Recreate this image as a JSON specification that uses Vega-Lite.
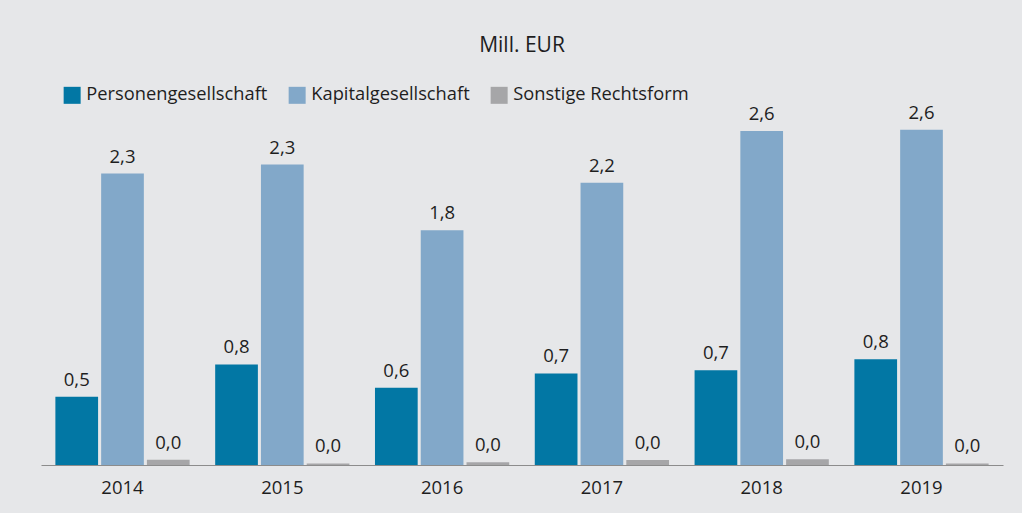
{
  "$schema": "https://vega.github.io/schema/vega-lite/v6.json",
  "width": 962,
  "height": 361,
  "autosize": {"type": "none"},
  "padding": {"left": 41, "top": 104, "right": 19, "bottom": 48},
  "background": "#e6e7e9",
  "config": {
    "view": {"stroke": null},
    "font": "Open Sans",
    "locale": {"number": {"decimal": ",", "thousands": ".", "grouping": [3], "currency": ["", " €"]}}
  },
  "title": {
    "text": "Mill. EUR",
    "anchor": "middle",
    "frame": "group",
    "fontSize": 21,
    "fontWeight": "normal",
    "color": "#1e1e1e",
    "offset": 30,
    "font": "Open Sans"
  },
  "data": {
    "values": [
      {"Jahr": "2014", "Rechtsform": "Personengesellschaft", "Wert": 0.53},
      {"Jahr": "2014", "Rechtsform": "Kapitalgesellschaft", "Wert": 2.26},
      {"Jahr": "2014", "Rechtsform": "Sonstige Rechtsform", "Wert": 0.04},
      {"Jahr": "2015", "Rechtsform": "Personengesellschaft", "Wert": 0.78},
      {"Jahr": "2015", "Rechtsform": "Kapitalgesellschaft", "Wert": 2.33},
      {"Jahr": "2015", "Rechtsform": "Sonstige Rechtsform", "Wert": 0.012},
      {"Jahr": "2016", "Rechtsform": "Personengesellschaft", "Wert": 0.6},
      {"Jahr": "2016", "Rechtsform": "Kapitalgesellschaft", "Wert": 1.82},
      {"Jahr": "2016", "Rechtsform": "Sonstige Rechtsform", "Wert": 0.022},
      {"Jahr": "2017", "Rechtsform": "Personengesellschaft", "Wert": 0.71},
      {"Jahr": "2017", "Rechtsform": "Kapitalgesellschaft", "Wert": 2.19},
      {"Jahr": "2017", "Rechtsform": "Sonstige Rechtsform", "Wert": 0.038},
      {"Jahr": "2018", "Rechtsform": "Personengesellschaft", "Wert": 0.735},
      {"Jahr": "2018", "Rechtsform": "Kapitalgesellschaft", "Wert": 2.59},
      {"Jahr": "2018", "Rechtsform": "Sonstige Rechtsform", "Wert": 0.045},
      {"Jahr": "2019", "Rechtsform": "Personengesellschaft", "Wert": 0.82},
      {"Jahr": "2019", "Rechtsform": "Kapitalgesellschaft", "Wert": 2.6},
      {"Jahr": "2019", "Rechtsform": "Sonstige Rechtsform", "Wert": 0.012}
    ]
  },
  "encoding": {
    "x": {
      "field": "Jahr",
      "type": "nominal",
      "scale": {"paddingInner": 0.16, "paddingOuter": 0.09},
      "axis": {
        "title": null,
        "labelAngle": 0,
        "labelFontSize": 18.5,
        "labelColor": "#1e1e1e",
        "labelPadding": 13,
        "ticks": false,
        "domainColor": "#8c8c8c",
        "domainWidth": 1.2,
        "grid": false
      }
    },
    "xOffset": {
      "field": "Rechtsform",
      "type": "nominal",
      "sort": ["Personengesellschaft", "Kapitalgesellschaft", "Sonstige Rechtsform"],
      "scale": {"paddingInner": 0.067, "paddingOuter": 0}
    },
    "y": {
      "field": "Wert",
      "type": "quantitative",
      "scale": {"domain": [0, 2.8], "nice": false},
      "axis": null
    }
  },
  "layer": [
    {
      "mark": {"type": "bar"},
      "encoding": {
        "color": {
          "field": "Rechtsform",
          "type": "nominal",
          "scale": {
            "domain": ["Personengesellschaft", "Kapitalgesellschaft", "Sonstige Rechtsform"],
            "range": ["#0277a4", "#82a8c9", "#a6a6a8"]
          },
          "legend": {
            "title": null,
            "orient": "none",
            "direction": "horizontal",
            "legendX": 22,
            "legendY": -18,
            "symbolType": "square",
            "symbolSize": 289,
            "symbolStrokeWidth": 0,
            "symbolOpacity": 1,
            "labelFontSize": 18.3,
            "labelColor": "#1e1e1e",
            "labelOffset": 5,
            "columnPadding": 20,
            "labelLimit": 400
          }
        }
      }
    },
    {
      "mark": {"type": "text", "baseline": "alphabetic", "dy": -11, "fontSize": 18.5, "color": "#1e1e1e"},
      "encoding": {
        "text": {"field": "Wert", "type": "quantitative", "format": ".1f"}
      }
    }
  ]
}
